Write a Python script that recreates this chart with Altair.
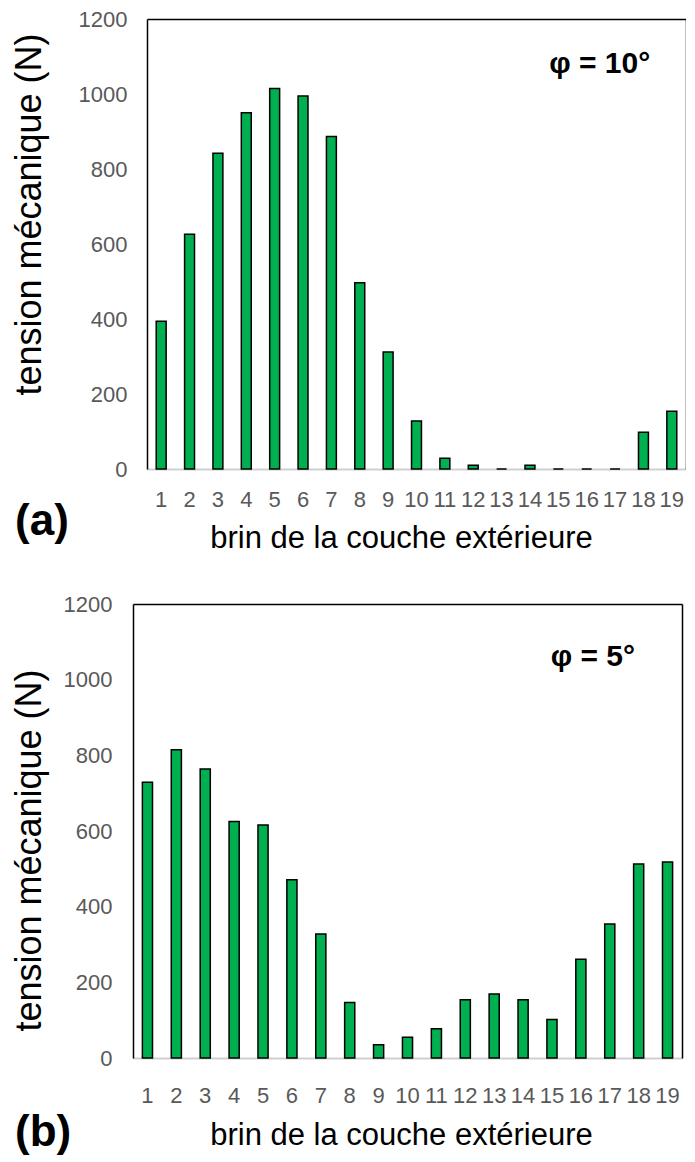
import altair as alt
import pandas as pd

brins = ["1", "2", "3", "4", "5", "6", "7", "8", "9", "10",
         "11", "12", "13", "14", "15", "16", "17", "18", "19"]

# phi = 10 deg (a)
tension_10 = [394, 626, 842, 950, 1015, 995, 887, 497, 312, 128,
              29, 10, 0, 10, 0, 0, 0, 98, 154]
# phi = 5 deg (b)
tension_5 = [729, 815, 764, 625, 616, 471, 328, 147, 35, 55,
             77, 154, 169, 154, 102, 261, 354, 513, 518]

y_ticks = [0, 200, 400, 600, 800, 1000, 1200]
phi_labels = ["φ = 10°", "φ = 5°"]
phi_y = [1080, 1060]
letters = ["(a)", "(b)"]
x_title = "brin de la couche extérieure"
y_title = "tension mécanique (N)"

FONT = "Liberation Sans"


def panel(values, phi, phi_val, letter, width, height, shift, y_title_pad,
          y_title_y, y_label_pad, x_label_pad, x_title_pad, letter_dy, phi_dx):
    df = pd.DataFrame({"brin": brins, "tension": values})
    xscale = alt.Scale(range=[shift, width], paddingInner=0.65,
                       paddingOuter=0.325)
    yscale = alt.Scale(domain=[0, 1200], nice=False)

    x = alt.X(
        "brin:N", sort=brins, title=x_title, scale=xscale,
        axis=alt.Axis(labelAngle=0, labelFontSize=22, labelColor="#595959",
                      labelFont=FONT, ticks=False, tickSize=0,
                      domainColor="#d0d0d0", domainWidth=2,
                      labelPadding=x_label_pad, titleFontSize=31,
                      titleFont=FONT, titleColor="black", titleX=268,
                      titleFontWeight="normal", titlePadding=x_title_pad),
    )
    y = alt.Y(
        "tension:Q", title=y_title, scale=yscale,
        axis=alt.Axis(values=y_ticks, format="d", grid=False, domain=True,
                      domainColor="black", domainWidth=1.5, offset=-shift,
                      ticks=False, tickSize=0, labelFontSize=22,
                      labelColor="#595959", labelFont=FONT,
                      labelPadding=y_label_pad, titleFontSize=36,
                      titleFont=FONT, titleColor="black", titleY=y_title_y,
                      titleFontWeight="normal", titlePadding=y_title_pad),
    )
    bars = alt.Chart(df).mark_bar(
        fill="#00B050", stroke="black", strokeWidth=1.5
    ).encode(x=x, y=y)

    # annotation layer, whose axes carry the top and right edges of the frame
    x_top = alt.X("brin:N", sort=brins, scale=xscale, title=None,
                  axis=alt.Axis(orient="top", labels=False, ticks=False,
                                grid=False, domainColor="black",
                                domainWidth=1.5))
    y_right = alt.Y("tension:Q", scale=yscale, title=None,
                    axis=alt.Axis(orient="right", labels=False, ticks=False,
                                  grid=False, domainColor="black",
                                  domainWidth=1.5))
    lab_df = pd.DataFrame({"brin": ["16"], "tension": [phi_val], "txt": [phi]})
    label = alt.Chart(lab_df).mark_text(
        fontSize=30, fontWeight="bold", font=FONT, color="black", dx=phi_dx
    ).encode(x=x_top, y=y_right, text="txt:N")

    return alt.layer(bars, label).resolve_axis(
        x="independent", y="independent"
    ).properties(
        width=width, height=height,
        title=alt.TitleParams(letter, orient="bottom", anchor="start",
                              frame="bounds", fontSize=44, fontWeight="bold",
                              font=FONT, color="black", dx=4, dy=letter_dy,
                              offset=0),
    )


top = panel(tension_10, phi_labels[0], phi_y[0], letters[0], 553, 450, 14,
            y_title_pad=30, y_title_y=195, y_label_pad=20, x_label_pad=20,
            x_title_pad=13, letter_dy=-53, phi_dx=13)
bottom = panel(tension_5, phi_labels[1], phi_y[1], letters[1], 549, 454, 0,
               y_title_pad=15, y_title_y=246, y_label_pad=21, x_label_pad=27,
               x_title_pad=14, letter_dy=-39, phi_dx=12)

chart = alt.vconcat(top, bottom, spacing=40).properties(
    padding={"left": 3, "top": 0, "right": 0, "bottom": 0}
).configure(font=FONT).configure_view(strokeWidth=0)

chart.save("out.html", embed_options={"renderer": "svg", "actions": False})
